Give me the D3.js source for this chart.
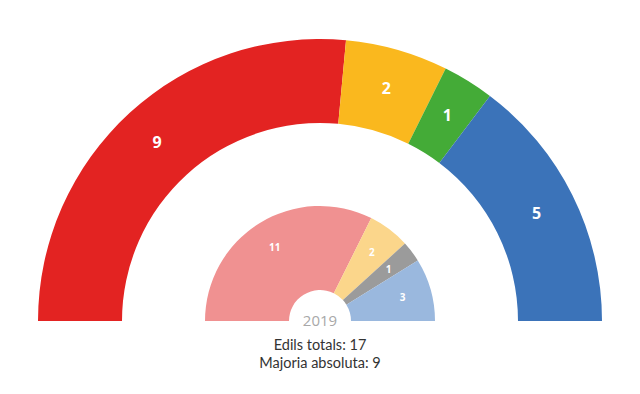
<!DOCTYPE html>
<html lang="ca">
<head>
    <meta charset="UTF-8">
    <title>Edils</title>
    <script src="https://d3js.org/d3.v7.min.js"></script>
    <style>
        body { margin: 0; background: #fff; font-family: "Open Sans", sans-serif; }
    </style>
</head>
<body>
<div id="chart"></div>
<script>
    // results 2023 (big arc) and 2019 (small arc)
    var parties = ["A", "B", "C", "D"];
    var seats = [9, 2, 1, 5];
    var colors = ["#e32322", "#fab81e", "#44ab37", "#3b73b9"];

    var parties2019 = ["A", "B", "E", "D"];
    var seats2019 = [11, 2, 1, 3];
    var colors2019 = ["#f09191", "#fbd68b", "#9b9b9b", "#9ab8de"];

    var totalLabel = "Edils totals: 17";
    var majorityLabel = "Majoria absoluta: 9";
    var yearLabel = "2019";

    var width = 640, height = 394;
    var cx = 320, cy = 321;

    var svg = d3.select("#chart")
        .append("svg")
        .attr("width", width)
        .attr("height", height);

    var pie = d3.pie()
        .sort(null)
        .value(function(d) { return d; })
        .startAngle(-Math.PI / 2)
        .endAngle(Math.PI / 2);

    function drawArc(values, cols, inner, outer, labelR, fontSize) {
        var g = svg.append("g").attr("transform", "translate(" + cx + "," + cy + ")");
        var arc = d3.arc().innerRadius(inner).outerRadius(outer);
        var labelArc = d3.arc().innerRadius(labelR).outerRadius(labelR);
        var arcs = pie(values);

        g.selectAll("path")
            .data(arcs)
            .enter()
            .append("path")
            .attr("d", arc)
            .style("fill", function(d, i) { return cols[i]; });

        g.selectAll("text")
            .data(arcs)
            .enter()
            .append("text")
            .attr("transform", function(d) { return "translate(" + labelArc.centroid(d) + ")"; })
            .attr("dy", "0.35em")
            .style("text-anchor", "middle")
            .style("fill", "#fff")
            .style("font-weight", "bold")
            .style("font-size", fontSize + "px")
            .text(function(d) { return d.data; });
    }

    drawArc(seats, colors, 198, 282, 242, 16);
    drawArc(seats2019, colors2019, 31, 115, 86, 10);

    svg.append("text")
        .attr("x", cx).attr("y", 326)
        .style("text-anchor", "middle")
        .style("fill", "#a8a8a8")
        .style("font-size", "15px")
        .text(yearLabel);

    // footer lines
    svg.append("text")
        .attr("x", cx).attr("y", 350)
        .style("text-anchor", "middle")
        .style("fill", "#333")
        .style("font-family", "Lato, sans-serif")
        .style("font-size", "14.5px")
        .text(totalLabel);

    svg.append("text")
        .attr("x", cx).attr("y", 368)
        .style("text-anchor", "middle")
        .style("fill", "#333")
        .style("font-family", "Lato, sans-serif")
        .style("font-size", "14.5px")
        .text(majorityLabel);
</script>
</body>
</html>
